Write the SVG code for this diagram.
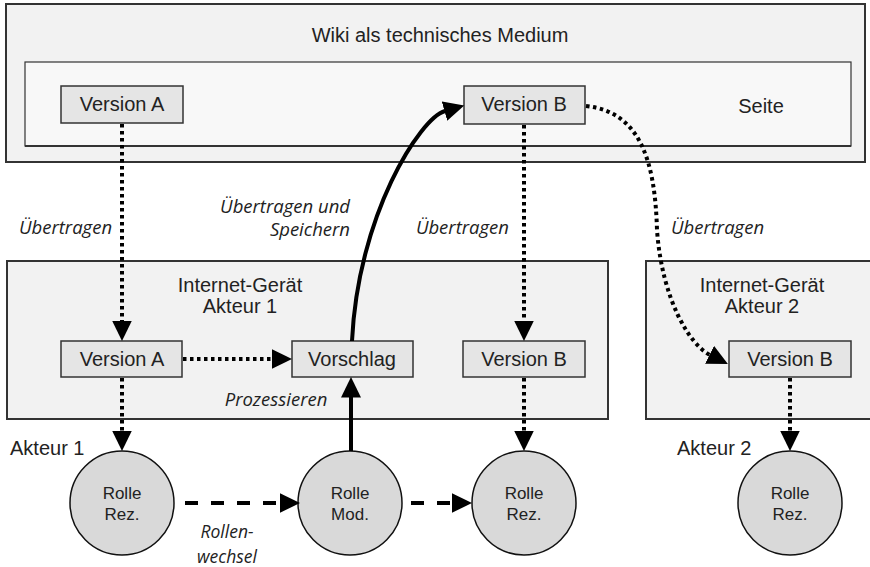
<svg xmlns="http://www.w3.org/2000/svg" width="870" height="567" viewBox="0 0 870 567">
<defs>
<style>
.frame{fill:#f2f2f2;stroke:#333;stroke-width:2}
.page{fill:#f8f8f8;stroke:#333;stroke-width:1.2}
.ver{fill:#e5e5e5;stroke:#333;stroke-width:1.5}
.role{fill:#d9d9d9;stroke:#111;stroke-width:1.5}
.t{font-family:"Liberation Sans",Arial,sans-serif;font-size:20px;fill:#222;text-anchor:middle}
.tc{font-family:"Liberation Sans",Arial,sans-serif;font-size:17px;fill:#222;text-anchor:middle}
.it{font-family:"Open Sans","DejaVu Sans",sans-serif;font-style:italic;font-size:18.5px;fill:#222}
.its{font-family:"Open Sans","DejaVu Sans",sans-serif;font-style:italic;font-size:17.5px;fill:#222;text-anchor:middle}
.dot{fill:none;stroke:#000;stroke-width:4;stroke-dasharray:3.5 3.5;marker-end:url(#ah)}
.sol{fill:none;stroke:#000;stroke-width:4;marker-end:url(#ah)}
.dash{fill:none;stroke:#000;stroke-width:4;stroke-dasharray:13 13;marker-end:url(#ah)}
</style>
<marker id="ah" markerUnits="userSpaceOnUse" viewBox="0 -10 21 20" refX="0.5" refY="0" markerWidth="21" markerHeight="20" orient="auto">
<path d="M0,-10 L20.5,0 L0,10 z" fill="#000"/>
</marker>
</defs>

<g id="wiki">
<rect class="frame" x="6" y="4" width="859" height="158"/>
<text class="t" x="440" y="42">Wiki als technisches Medium</text>
</g>
<g id="seite">
<rect class="page" x="25" y="62" width="826" height="84"/>
<line x1="25" y1="146" x2="851" y2="146" stroke="#333" stroke-width="2"/>
<text class="t" x="761" y="113">Seite</text>
</g>
<g id="wiki-version-a">
<rect class="ver" x="61" y="86" width="122" height="37"/>
<text class="t" x="122" y="111">Version A</text>
</g>
<g id="wiki-version-b">
<rect class="ver" x="464" y="86" width="121" height="38"/>
<text class="t" x="524" y="111">Version B</text>
</g>

<g id="geraet-1">
<rect class="frame" x="7" y="261" width="601" height="158" stroke-width="1.5"/>
<text class="t" x="240" y="292">Internet-Gerät</text>
<text class="t" x="240" y="313">Akteur 1</text>
</g>
<g id="geraet-2">
<rect class="frame" x="646" y="261" width="240" height="158" stroke-width="1.5"/>
<text class="t" x="762" y="292">Internet-Gerät</text>
<text class="t" x="762" y="313">Akteur 2</text>
</g>
<g id="a1-version-a">
<rect class="ver" x="61" y="341" width="121" height="36"/>
<text class="t" x="122" y="366">Version A</text>
</g>
<g id="vorschlag">
<rect class="ver" x="292" y="341" width="121" height="36"/>
<text class="t" x="352" y="366">Vorschlag</text>
</g>
<g id="a1-version-b">
<rect class="ver" x="463" y="341" width="122" height="36"/>
<text class="t" x="524" y="366">Version B</text>
</g>
<g id="a2-version-b">
<rect class="ver" x="729" y="341" width="122" height="36"/>
<text class="t" x="790" y="366">Version B</text>
</g>

<g id="akteur-1-label"><text class="t" x="10" y="455" style="text-anchor:start">Akteur 1</text></g>
<g id="akteur-2-label"><text class="t" x="677" y="455" style="text-anchor:start">Akteur 2</text></g>

<g id="rolle-rez-1">
<circle class="role" cx="122" cy="503" r="52"/>
<text class="tc" x="122" y="499">Rolle</text>
<text class="tc" x="122" y="520">Rez.</text>
</g>
<g id="rolle-mod">
<circle class="role" cx="350" cy="503" r="52"/>
<text class="tc" x="350" y="499">Rolle</text>
<text class="tc" x="350" y="520">Mod.</text>
</g>
<g id="rolle-rez-2">
<circle class="role" cx="524" cy="503" r="52"/>
<text class="tc" x="524" y="499">Rolle</text>
<text class="tc" x="524" y="520">Rez.</text>
</g>
<g id="rolle-rez-3">
<circle class="role" cx="790" cy="503" r="52"/>
<text class="tc" x="790" y="499">Rolle</text>
<text class="tc" x="790" y="520">Rez.</text>
</g>

<g id="connectors">
<path class="dot" d="M122,124 L122,321"/>
<path class="dot" d="M183,359 L272,359"/>
<path class="sol" d="M352,341 C358,215 420,118 445,111"/>
<path class="sol" d="M351,451 L351,397"/>
<path class="dot" d="M524,125 L524,321"/>
<path class="dot" d="M586,106 C640,112 655,160 657,230 C662,300 690,345 710,355"/>
<path class="dot" d="M122,378 L122,431"/>
<path class="dot" d="M524,378 L524,431"/>
<path class="dot" d="M790,378 L790,431"/>
<path class="dash" d="M185,503 L280,503"/>
<path class="dash" d="M411,503 L452,503"/>
</g>

<g id="labels">
<text class="it" x="19" y="234">Übertragen</text>
<text class="it" x="350" y="213" text-anchor="end">Übertragen und</text>
<text class="it" x="350" y="236" text-anchor="end">Speichern</text>
<text class="it" x="509" y="234" text-anchor="end">Übertragen</text>
<text class="it" x="671" y="234">Übertragen</text>
<text class="it" x="276" y="406" text-anchor="middle">Prozessieren</text>
<text class="its" x="227" y="538">Rollen-</text>
<text class="its" x="227" y="563">wechsel</text>
</g>
</svg>
